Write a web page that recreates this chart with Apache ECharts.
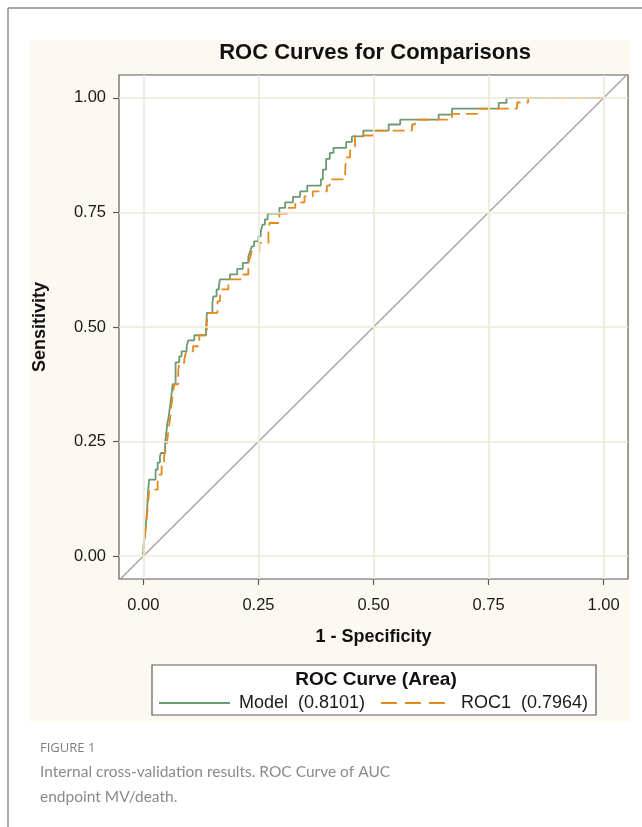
<!DOCTYPE html>
<html>
<head>
<meta charset="utf-8">
<script src="https://cdn.jsdelivr.net/npm/echarts@6/dist/echarts.min.js"></script>
<style>
  html, body { margin: 0; padding: 0; background: #ffffff; }
  #chart { width: 642px; height: 827px; }
</style>
</head>
<body>
<div id="chart"></div>
<script>
// ---- Data ----
const chartTitle = 'ROC Curves for Comparisons';
const xAxisTitle = '1 - Specificity';
const yAxisTitle = 'Sensitivity';
const legendTitle = 'ROC Curve (Area)';
const seriesNames = ['Model  (0.8101)', 'ROC1  (0.7964)'];
const tickValues = [0, 0.25, 0.5, 0.75, 1];
const refLine = [[-0.06, -0.06], [1.06, 1.06]];

// Model ROC: top corners of each vertical step
const fprModel = [0, 0, 0.002, 0.004, 0.006, 0.008, 0.009, 0.0105, 0.0125, 0.0265, 0.031, 0.036, 0.038,
  0.047, 0.049, 0.052, 0.054, 0.056, 0.060, 0.0635, 0.070, 0.078, 0.083, 0.094, 0.0975, 0.1106,
  0.136, 0.138, 0.150, 0.152, 0.159, 0.164, 0.1665, 0.188, 0.204, 0.216, 0.228, 0.232, 0.2355,
  0.2405, 0.250, 0.255, 0.259, 0.264, 0.270, 0.2955, 0.308, 0.325, 0.3406, 0.356, 0.3856, 0.390,
  0.397, 0.405, 0.413, 0.4407, 0.453, 0.478, 0.533, 0.558, 0.6416, 0.6707, 0.772, 0.789, 1.0];
const tprModel = [0, 0.02, 0.035, 0.055, 0.075, 0.10, 0.12, 0.145, 0.167, 0.189, 0.204, 0.218, 0.225,
  0.247, 0.262, 0.29, 0.30, 0.313, 0.342, 0.375, 0.423, 0.436, 0.447, 0.458, 0.471, 0.482,
  0.50, 0.531, 0.553, 0.567, 0.582, 0.5905, 0.604, 0.615, 0.627, 0.640, 0.654, 0.665, 0.676,
  0.687, 0.698, 0.709, 0.7236, 0.735, 0.7476, 0.760, 0.772, 0.784, 0.796, 0.8087, 0.822, 0.8436,
  0.867, 0.880, 0.891, 0.904, 0.916, 0.9287, 0.942, 0.9525, 0.9636, 0.9767, 0.989, 1.0, 1.0];

// ROC1: top corners of each vertical step
const fprRoc1 = [0, 0.002, 0.004, 0.006, 0.008, 0.010, 0.0127, 0.031, 0.034, 0.0396, 0.045, 0.048,
  0.0505, 0.054, 0.056, 0.058, 0.060, 0.063, 0.067, 0.0757, 0.078, 0.089, 0.091, 0.094, 0.108,
  0.1215, 0.138, 0.140, 0.161, 0.1665, 0.168, 0.1846, 0.217, 0.228, 0.232, 0.2355, 0.252, 0.2717,
  0.274, 0.2955, 0.313, 0.330, 0.350, 0.368, 0.3987, 0.405, 0.4385, 0.440, 0.449, 0.453, 0.460,
  0.4985, 0.5837, 0.590, 0.6707, 0.725, 0.812, 0.836, 1.0];
const tprRoc1 = [0, 0.025, 0.05, 0.07, 0.09, 0.115, 0.145, 0.16, 0.178, 0.196, 0.218, 0.23,
  0.244, 0.269, 0.287, 0.30, 0.32, 0.346, 0.375, 0.404, 0.422, 0.429, 0.44, 0.447, 0.458,
  0.482, 0.51, 0.531, 0.556, 0.571, 0.582, 0.604, 0.6146, 0.6385, 0.652, 0.665, 0.6837, 0.709,
  0.727, 0.7476, 0.76, 0.772, 0.785, 0.796, 0.8087, 0.822, 0.84, 0.87, 0.8835, 0.894, 0.918,
  0.9287, 0.942, 0.9525, 0.965, 0.9767, 0.99, 1.0, 1.0];

const captionLabel = 'FIGURE 1';
const captionLines = ['Internal cross-validation results. ROC Curve of AUC', 'endpoint MV/death.'];

// ---- Chart ----
const FONT = '"Liberation Sans", Arial, sans-serif';
const green = '#6b9a72';
const orange = '#e8891c';
const frameColor = '#5f5b55';
const modelData = fprModel.map((x, i) => [x, tprModel[i]]);
const roc1Data = fprRoc1.map((x, i) => [x, tprRoc1[i]]);

const chart = echarts.init(document.getElementById('chart'), null, { renderer: 'canvas' });

const gridMarks = tickValues.map(v => ({ xAxis: v })).concat(tickValues.map(v => ({ yAxis: v })));

// frame grid: data range -0.053..1.053 (x) and -0.05..1.05 (y)
const FR = { left: 119, top: 75, width: 509, height: 504 };
const xMin = -0.053, xMax = 1.053, yMin = -0.05, yMax = 1.05;
const pxX = FR.width / (xMax - xMin), pxY = FR.height / (yMax - yMin);
// x tick grid: 0..1 horizontally, full frame height (axis sits on the frame bottom)
const GX = { left: FR.left + (0 - xMin) * pxX, width: pxX, top: FR.top, height: FR.height };
// y tick grid: 0..1 vertically, full frame width (axis sits on the frame left)
const GY = { left: FR.left, width: FR.width, top: FR.top + (yMax - 1) * pxY, height: pxY };

const labelStyle = { fontSize: 16.5, color: '#1a1a1a', fontFamily: FONT };
const nameStyle = { fontSize: 18, fontWeight: 'bold', color: '#111', fontFamily: FONT };
const tickStyle = { show: true, inside: false, length: 6, lineStyle: { color: frameColor, width: 1.2 } };
const hiddenAxis = { type: 'value', show: false, min: 0, max: 1 };

const option = {
  animation: false,
  backgroundColor: '#ffffff',
  grid: [
    { left: FR.left, top: FR.top, width: FR.width, height: FR.height,
      show: true, backgroundColor: '#ffffff', borderColor: frameColor, borderWidth: 1.2 },
    { left: GX.left, top: GX.top, width: GX.width, height: GX.height, show: false },
    { left: GY.left, top: GY.top, width: GY.width, height: GY.height, show: false }
  ],
  xAxis: [
    { type: 'value', gridIndex: 0, min: xMin, max: xMax,
      axisLine: { show: false }, axisTick: { show: false }, axisLabel: { show: false }, splitLine: { show: false } },
    { type: 'value', gridIndex: 1, min: 0, max: 1, interval: 0.25,
      axisLine: { show: false }, splitLine: { show: false },
      axisTick: tickStyle,
      axisLabel: { formatter: v => v.toFixed(2), margin: 18, ...labelStyle },
      name: xAxisTitle, nameLocation: 'middle', nameGap: 49, nameTextStyle: nameStyle },
    { ...hiddenAxis, gridIndex: 2 }
  ],
  yAxis: [
    { type: 'value', gridIndex: 0, min: yMin, max: yMax,
      axisLine: { show: false }, axisTick: { show: false }, axisLabel: { show: false }, splitLine: { show: false } },
    { ...hiddenAxis, gridIndex: 1 },
    { type: 'value', gridIndex: 2, min: 0, max: 1, interval: 0.25,
      axisLine: { show: false }, splitLine: { show: false },
      axisTick: tickStyle,
      axisLabel: { formatter: v => v.toFixed(2), margin: 13, ...labelStyle },
      name: yAxisTitle, nameLocation: 'middle', nameGap: 70, nameRotate: 90, nameTextStyle: nameStyle }
  ],
  series: [
    {
      type: 'line', name: 'grid', xAxisIndex: 0, yAxisIndex: 0, data: [[0, 0]], symbol: 'none', silent: true, z: 1,
      lineStyle: { opacity: 0 },
      markLine: {
        silent: true, symbol: 'none', animation: false,
        label: { show: false },
        lineStyle: { color: '#ece9d9', width: 1.6, type: 'solid' },
        emphasis: { disabled: true },
        data: gridMarks
      }
    },
    {
      type: 'line', name: 'ref', xAxisIndex: 0, yAxisIndex: 0, data: refLine, symbol: 'none', silent: true, z: 2,
      lineStyle: { color: '#a3a3a3', width: 1.4 }
    },
    {
      type: 'line', name: seriesNames[0], xAxisIndex: 0, yAxisIndex: 0, data: modelData, step: 'end', symbol: 'none', z: 3,
      lineStyle: { color: green, width: 1.8 }
    },
    {
      type: 'line', name: seriesNames[1], xAxisIndex: 0, yAxisIndex: 0, data: roc1Data, step: 'end', symbol: 'none', z: 4,
      lineStyle: { color: orange, width: 1.8, type: [12, 6] }
    }
  ],
  graphic: [
    // outer figure frame (left and top rules)
    { type: 'line', z: -10, shape: { x1: 8, y1: 8, x2: 8, y2: 827 }, style: { stroke: '#8e8e8e', lineWidth: 1.5 } },
    { type: 'line', z: -10, shape: { x1: 8, y1: 8, x2: 642, y2: 8 }, style: { stroke: '#8e8e8e', lineWidth: 1.5 } },
    // cream chart background
    { type: 'rect', z: -20, shape: { x: 30, y: 40, width: 600, height: 682 }, style: { fill: '#fbf9f2' } },
    // title
    { type: 'text', x: 375, y: 53, style: { text: chartTitle, font: 'bold 22px ' + FONT, fill: '#111', align: 'center', verticalAlign: 'middle' } },
    // legend box
    { type: 'rect', shape: { x: 152, y: 665, width: 444, height: 50 }, style: { fill: '#ffffff', stroke: frameColor, lineWidth: 1.2 } },
    { type: 'text', x: 376, y: 680, style: { text: legendTitle, font: 'bold 19px ' + FONT, fill: '#111', align: 'center', verticalAlign: 'middle' } },
    { type: 'line', shape: { x1: 159, y1: 703, x2: 230, y2: 703 }, style: { stroke: green, lineWidth: 1.8 } },
    { type: 'text', x: 239, y: 703, style: { text: seriesNames[0], font: '18px ' + FONT, fill: '#1a1a1a', align: 'left', verticalAlign: 'middle' } },
    { type: 'line', shape: { x1: 381, y1: 703, x2: 446, y2: 703 }, style: { stroke: orange, lineWidth: 1.8, lineDash: [16, 8] } },
    { type: 'text', x: 461, y: 703, style: { text: seriesNames[1], font: '18px ' + FONT, fill: '#1a1a1a', align: 'left', verticalAlign: 'middle' } },
    // caption
    { type: 'text', x: 40, y: 748, style: { text: captionLabel, font: '13px "Open Sans", Lato, sans-serif', fill: '#7d7d7d', align: 'left', verticalAlign: 'middle' } },
    { type: 'text', x: 40, y: 772, style: { text: captionLines[0], font: '15.5px Lato, "Open Sans", sans-serif', fill: '#8a8a8a', align: 'left', verticalAlign: 'middle' } },
    { type: 'text', x: 40, y: 797, style: { text: captionLines[1], font: '15.5px Lato, "Open Sans", sans-serif', fill: '#8a8a8a', align: 'left', verticalAlign: 'middle' } }
  ]
};
chart.setOption(option);
</script>
</body>
</html>
